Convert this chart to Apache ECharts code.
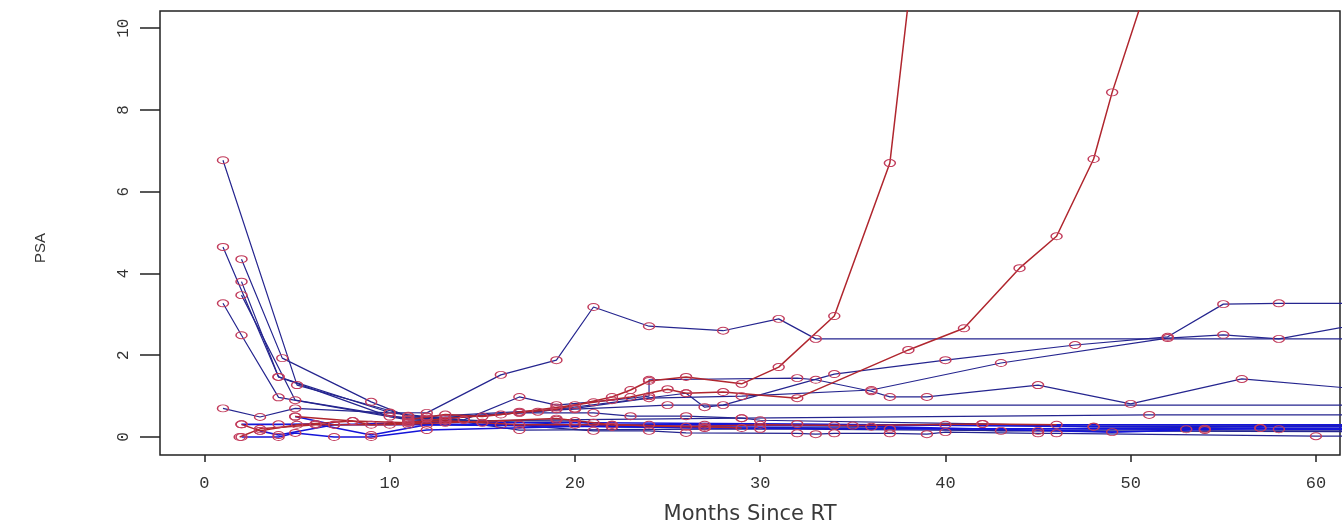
<!DOCTYPE html>
<html>
<head>
<meta charset="utf-8">
<script src="https://cdn.jsdelivr.net/npm/echarts@6/dist/echarts.min.js"></script>
<style>
  html, body { margin: 0; padding: 0; background: #ffffff; }
  #chart { width: 1343px; height: 526px; }
</style>
</head>
<body>
<div id="chart"></div>
<script>
// Axis ticks
const monthTicks = [0, 10, 20, 30, 40, 50, 60];
const psaTicks = [0, 2, 4, 6, 8, 10];

// PSA trajectories, one array per patient: [months since RT, PSA]
// Patients without a biochemical rise (blue)
const p01 = [[1, 6.77], [5, 1.27], [11, 0.52], [14, 0.42], [20, 0.3], [27, 0.3], [70, 0.28]];
const p02 = [[1, 4.65], [4, 1.47], [10, 0.6], [12, 0.59], [16, 1.52], [19, 1.88], [21, 3.18], [24, 2.71], [28, 2.6], [31, 2.89], [33, 2.4], [70, 2.4]];
const p03 = [[2, 4.35], [4.2, 1.93], [9, 0.86], [11, 0.5], [14, 0.42], [17, 0.98], [19, 0.78], [22, 0.9], [24, 1.0], [24, 1.4], [32, 1.44], [33, 1.4], [36, 1.12], [37, 0.98], [39, 0.98], [45, 1.27], [50, 0.81], [56, 1.42], [63, 1.15]];
const p04 = [[2, 3.8], [4, 1.47], [10, 0.5], [12, 0.45], [17, 0.59], [21, 0.59], [23, 0.51], [26, 0.51], [29, 0.46], [30, 0.41], [42, 0.32], [48, 0.25], [57, 0.22], [70, 0.22]];
const p05 = [[2, 3.47], [4.9, 0.9], [11, 0.45], [13, 0.4], [20, 0.39], [22, 0.25], [27, 0.22], [36, 0.25], [43, 0.15], [53, 0.19], [54, 0.17], [70, 0.17]];
const p06 = [[1, 3.27], [2, 2.49], [4, 0.97], [11, 0.42], [15, 0.35], [21, 0.15], [24, 0.15], [26, 0.1], [32, 0.09], [33, 0.07], [34, 0.09], [37, 0.09], [39, 0.07], [40, 0.12], [45, 0.09], [46, 0.09], [60, 0.02], [70, 0.02]];
const p07 = [[12, 0.45], [18, 0.62], [26, 1.07], [27, 0.73], [28, 0.78], [34, 1.54], [40, 1.88], [47, 2.25], [52, 2.45], [55, 3.25], [58, 3.27], [70, 3.27]];
const p08 = [[13, 0.45], [20, 0.7], [24, 0.95], [29, 1.0], [36, 1.15], [43, 1.81], [52, 2.42], [55, 2.5], [58, 2.4], [64, 2.9]];
const p09 = [[12, 0.5], [17, 0.62], [20, 0.68], [25, 0.78], [70, 0.78]];
const p10 = [[11, 0.38], [19, 0.42], [29, 0.46], [51, 0.54], [70, 0.54]];
const p11 = [[1, 0.7], [3, 0.49], [4.9, 0.7], [10, 0.59], [12, 0.5], [17, 0.17], [30, 0.2], [45, 0.15], [70, 0.12]];
const p12 = [[2, 0.0], [4, 0.0], [4.9, 0.1], [7, 0.0], [9, 0.0], [12, 0.17], [24, 0.3], [40, 0.3], [70, 0.3]];
const p13 = [[3, 0.15], [4, 0.05], [7, 0.3], [11, 0.35], [21, 0.35], [32, 0.32], [48, 0.25], [70, 0.25]];
const p14 = [[2, 0.31], [4, 0.31], [6, 0.32], [9, 0.05], [12, 0.3], [22, 0.25], [34, 0.28], [49, 0.12], [57, 0.22], [58, 0.19], [70, 0.19]];
const p15 = [[4.9, 0.5], [7, 0.3], [11, 0.3], [16, 0.3], [27, 0.22], [37, 0.2], [54, 0.2], [70, 0.2]];

// Patients with a rising PSA (red)
const r01 = [[11, 0.42], [13, 0.55], [15, 0.5], [17, 0.6], [19, 0.68], [20, 0.78], [22, 0.98], [23, 1.15], [24, 1.37], [26, 1.47], [29, 1.3], [31, 1.71], [34, 2.96], [37, 6.7], [39, 14.6]];
const r02 = [[4.9, 0.5], [8, 0.39], [11, 0.35], [13, 0.45], [16, 0.55], [19, 0.72], [21, 0.85], [23, 0.98], [25, 1.17], [26, 1.07], [28, 1.1], [32, 0.95], [38, 2.13], [41, 2.66], [44, 4.13], [46, 4.91], [48, 6.8], [49, 8.43], [51, 11.2]];
const r03 = [[2, 0.31], [3, 0.15], [5, 0.3], [8, 0.39], [9, 0.3], [13, 0.4], [17, 0.3], [20, 0.3], [22, 0.3], [26, 0.25], [30, 0.3], [35, 0.28], [42, 0.32], [46, 0.3]];
const r04 = [[1.9, 0.0], [3, 0.2], [6, 0.3], [10, 0.3], [13, 0.35], [19, 0.45], [22, 0.3], [27, 0.25], [29, 0.22]];

const stablePatients = [p01, p02, p03, p04, p05, p06, p07, p08, p09, p10, p11, p12, p13, p14, p15];
const risingPatients = [r01, r02, r03, r04];

const BLUE = '#25258f';
const BRIGHT_BLUE = '#1414d8';
const RED = '#b0262e';
const POINT = '#c23c5c';

function patientSeries(data, color, width) {
  return {
    type: 'line',
    data: data,
    clip: true,
    symbol: 'circle',
    symbolSize: [11, 7],
    showSymbol: true,
    lineStyle: { color: color, width: width },
    itemStyle: { color: 'rgba(0,0,0,0)', borderColor: POINT, borderWidth: 1.2 },
    emphasis: { disabled: true },
    animation: false
  };
}

const series = [];
stablePatients.forEach((d, i) => {
  series.push(patientSeries(d, i >= 11 ? BRIGHT_BLUE : BLUE, i >= 11 ? 1.6 : 1.2));
});
risingPatients.forEach(d => series.push(patientSeries(d, RED, 1.5)));

const chart = echarts.init(document.getElementById('chart'), null, { renderer: 'canvas' });
chart.setOption({
  backgroundColor: '#ffffff',
  animation: false,
  grid: {
    left: 160, right: 3, top: 11, bottom: 71,
    outerBoundsMode: 'none',
    containLabel: false,
    show: true, borderColor: '#222222', borderWidth: 1.5, backgroundColor: 'transparent'
  },
  xAxis: {
    type: 'value',
    min: -2.4, max: 61.3,
    name: 'Months Since RT',
    nameLocation: 'middle',
    nameGap: 49,
    nameTextStyle: { fontFamily: 'DejaVu Sans', fontSize: 21, color: '#3a3a3a' },
    axisLine: { show: false, onZero: false },
    splitLine: { show: false },
    axisTick: { show: true, customValues: monthTicks, length: 7, lineStyle: { color: '#222222', width: 1.5 } },
    axisLabel: { customValues: monthTicks, margin: 20, fontFamily: 'Liberation Mono', fontSize: 17, color: '#333333' }
  },
  yAxis: {
    type: 'value',
    min: -0.44, max: 10.42,
    name: 'PSA',
    nameLocation: 'middle',
    nameGap: 112,
    nameTextStyle: { fontFamily: 'Liberation Sans', fontSize: 15, color: '#333333', padding: [0, 30, 0, 0] },
    axisLine: { show: false, onZero: false },
    splitLine: { show: false },
    axisTick: { show: true, customValues: psaTicks, length: 20, lineStyle: { color: '#222222', width: 1.5 } },
    axisLabel: { customValues: psaTicks, rotate: 90, margin: 28, fontFamily: 'Liberation Mono', fontSize: 16, color: '#333333' }
  },
  series: series
});
</script>
</body>
</html>
